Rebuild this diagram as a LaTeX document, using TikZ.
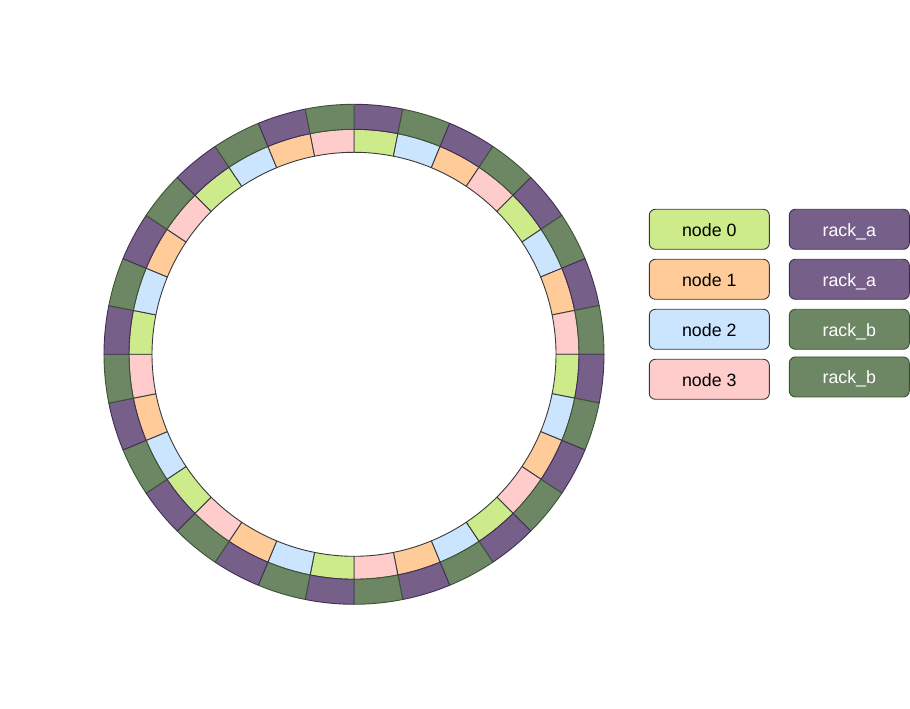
\documentclass[tikz,border=0pt]{standalone}
\usepackage{fontspec}
\setmainfont{Liberation Sans}
\definecolor{ic0}{HTML}{CDEB8B}
\definecolor{ic1}{HTML}{CCE5FF}
\definecolor{ic2}{HTML}{FFCC99}
\definecolor{ic3}{HTML}{FFCCCC}
\definecolor{nodestroke}{HTML}{36393D}
\definecolor{oc0}{HTML}{76608A}
\definecolor{os0}{HTML}{432D57}
\definecolor{oc1}{HTML}{6D8764}
\definecolor{os1}{HTML}{3A5431}
\begin{document}
\begin{tikzpicture}[x=1pt,y=1pt,
  seg/.style={line width=0.9pt, line join=round},
  legbox/.style={rounded corners=6pt, minimum width=120pt, minimum height=40pt, line width=0.9pt, inner sep=0pt, text height=14pt, text depth=0pt, font=\fontsize{17.8}{20}\selectfont},
  nodebox/.style={legbox, draw=nodestroke, text=black},
  racka/.style={legbox, fill=oc0, draw=os0, text=white},
  rackb/.style={legbox, fill=oc1, draw=os1, text=white}
]
\useasboundingbox (0,0) rectangle (910,709);
\coordinate (c) at (354,354.7);
\begin{scope}[shift={(c)}]
\foreach \i in {0,...,31}{
  \pgfmathsetmacro\aa{90-\i*11.25}
  \pgfmathsetmacro\ab{90-(\i+1)*11.25}
  \pgfmathtruncatemacro\m{mod(\i,4)}
  \draw[seg, fill=ic\m, draw=nodestroke] (\aa:202) arc[start angle=\aa, end angle=\ab, radius=202] -- (\ab:225) arc[start angle=\ab, end angle=\aa, radius=225] -- cycle;
}
\foreach \i in {0,...,31}{
  \pgfmathsetmacro\aa{90-\i*11.25}
  \pgfmathsetmacro\ab{90-(\i+1)*11.25}
  \pgfmathtruncatemacro\k{mod(\i,2)}
  \draw[seg, fill=oc\k, draw=os\k] (\aa:225) arc[start angle=\aa, end angle=\ab, radius=225] -- (\ab:250) arc[start angle=\ab, end angle=\aa, radius=250] -- cycle;
}
\end{scope}
\node[nodebox, fill=ic0] (n0) at (709.3,479.7) {node 0};
\node[nodebox, fill=ic2] (n1) at (709.3,429.7) {node 1};
\node[nodebox, fill=ic1] (n2) at (709.3,379.7) {node 2};
\node[nodebox, fill=ic3] (n3) at (709.3,329.7) {node 3};
\node[racka] (r0) at (849.3,479.7) {rack\_a};
\node[racka] (r1) at (849.3,429.7) {rack\_a};
\node[rackb] (r2) at (849.3,379.7) {rack\_b};
\node[rackb] (r3) at (849.3,332) {rack\_b};
\end{tikzpicture}
\end{document}
